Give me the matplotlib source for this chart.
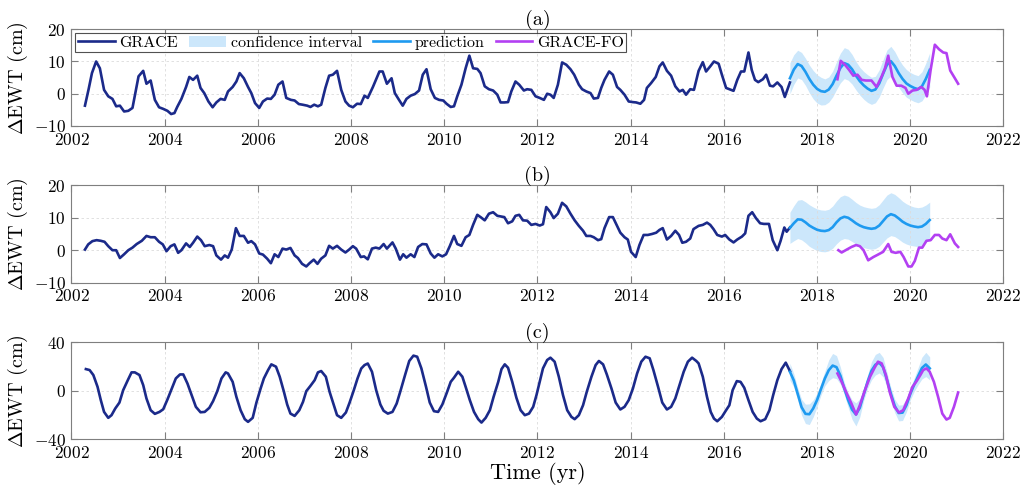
import numpy as np
import matplotlib
matplotlib.use("Agg")
import matplotlib.pyplot as plt
from matplotlib.patches import Patch
from matplotlib.lines import Line2D

plt.rcParams['font.family'] = 'serif'
plt.rcParams['font.serif'] = ['cmr10', 'DejaVu Serif']
plt.rcParams['mathtext.fontset'] = 'cm'
plt.rcParams['axes.formatter.use_mathtext'] = True
plt.rcParams['axes.unicode_minus'] = False

# ---- GRACE monthly series, panel (a)
t_grace_a = [2002.29, 2002.37, 2002.44, 2002.53, 2002.61, 2002.70, 2002.79, 2002.88, 2002.96, 2003.04,
             2003.13, 2003.22, 2003.31, 2003.44, 2003.54, 2003.61, 2003.70, 2003.79, 2003.88, 2003.97,
             2004.06, 2004.14, 2004.21, 2004.27, 2004.36, 2004.46, 2004.53, 2004.61, 2004.70, 2004.77,
             2004.85, 2004.94, 2005.03, 2005.11, 2005.20, 2005.29, 2005.36, 2005.46, 2005.54, 2005.61,
             2005.70, 2005.79, 2005.86, 2005.94, 2006.03, 2006.11, 2006.20, 2006.28, 2006.36, 2006.44,
             2006.53, 2006.61, 2006.71, 2006.79, 2006.88, 2006.96, 2007.06, 2007.13, 2007.21, 2007.29,
             2007.36, 2007.45, 2007.53, 2007.61, 2007.70, 2007.79, 2007.88, 2007.96, 2008.04, 2008.13,
             2008.21, 2008.29, 2008.36, 2008.47, 2008.61, 2008.68, 2008.77, 2008.87, 2008.94, 2009.03,
             2009.11, 2009.19, 2009.28, 2009.37, 2009.46, 2009.54, 2009.62, 2009.71, 2009.80, 2009.89,
             2009.98, 2010.05, 2010.14, 2010.21, 2010.28, 2010.37, 2010.46, 2010.54, 2010.62, 2010.71,
             2010.78, 2010.87, 2010.96, 2011.05, 2011.14, 2011.21, 2011.29, 2011.37, 2011.44, 2011.53,
             2011.61, 2011.71, 2011.78, 2011.87, 2011.96, 2012.05, 2012.14, 2012.21, 2012.28, 2012.35,
             2012.44, 2012.53, 2012.62, 2012.71, 2012.79, 2012.89, 2012.96, 2013.05, 2013.14, 2013.21,
             2013.30, 2013.37, 2013.44, 2013.54, 2013.62, 2013.71, 2013.78, 2013.87, 2013.96, 2014.05,
             2014.12, 2014.21, 2014.29, 2014.35, 2014.44, 2014.54, 2014.62, 2014.69, 2014.78, 2014.87,
             2014.96, 2015.05, 2015.12, 2015.19, 2015.28, 2015.36, 2015.46, 2015.55, 2015.62, 2015.71,
             2015.79, 2015.89, 2015.96, 2016.05, 2016.12, 2016.21, 2016.29, 2016.37, 2016.44, 2016.53,
             2016.60, 2016.67, 2016.74, 2016.84, 2016.91, 2016.99, 2017.06, 2017.15, 2017.24, 2017.31,
             2017.42]
ewt_grace_a = [-3.7, 1.5, 6.4, 10.0, 7.9, 1.2, -0.8, -1.6, -3.9, -3.7,
               -5.5, -5.3, -4.4, 5.4, 7.1, 3.1, 4.1, -1.9, -4.2, -4.7,
               -5.3, -6.3, -6.0, -4.1, -1.6, 2.1, 5.2, 4.3, 5.6, 1.8,
               0.2, -2.4, -4.2, -2.7, -1.6, -1.9, 0.7, 2.1, 3.8, 6.4,
               4.8, 2.1, 0.2, -2.9, -4.4, -2.4, -1.5, -1.6, -0.3, 2.8,
               3.8, -1.3, -1.9, -2.1, -3.2, -3.4, -3.7, -4.1, -3.4, -3.9,
               -3.4, 1.8, 5.6, 5.9, 7.1, 1.2, -2.4, -3.7, -4.2, -3.1,
               -3.2, -0.6, -1.3, 2.1, 6.9, 6.9, 3.1, 4.8, 0.2, -1.9,
               -3.7, -1.6, -0.6, -0.1, 1.0, 5.9, 7.6, 1.4, -1.3, -1.9,
               -2.1, -3.1, -4.1, -3.9, -0.8, 2.8, 7.9, 11.8, 7.9, 7.7,
               6.4, 2.3, 1.4, 1.0, -0.3, -2.7, -2.7, -2.6, 0.7, 3.8,
               2.8, 1.0, 1.4, 1.2, -0.8, -1.3, -1.9, 0.0, -0.3, -1.3,
               2.8, 9.7, 9.0, 7.6, 5.9, 2.8, 1.4, 0.7, 0.2, -1.5,
               -1.3, 1.8, 4.3, 6.9, 5.9, 2.1, 1.2, -0.3, -2.4, -2.6,
               -2.7, -3.1, -1.9, 1.8, 3.3, 5.2, 8.5, 9.7, 7.1, 5.6,
               2.3, 0.7, 1.2, -0.3, 1.4, 1.2, 7.1, 9.8, 6.9, 8.5,
               10.0, 9.3, 5.9, 1.8, 1.4, 0.9, 4.3, 6.9, 6.9, 12.8,
               7.4, 4.3, 3.6, 4.5, 5.9, 2.5, 2.3, 3.5, 2.1, -1.0,
               3.5]

# ---- GRACE monthly series, panel (b)
t_grace_b = [2002.29, 2002.36, 2002.45, 2002.54, 2002.63, 2002.71, 2002.79, 2002.88, 2002.96, 2003.04,
             2003.13, 2003.22, 2003.31, 2003.40, 2003.51, 2003.61, 2003.70, 2003.79, 2003.88, 2003.96,
             2004.04, 2004.13, 2004.21, 2004.29, 2004.36, 2004.46, 2004.54, 2004.61, 2004.70, 2004.78,
             2004.86, 2004.96, 2005.04, 2005.11, 2005.21, 2005.29, 2005.36, 2005.44, 2005.53, 2005.61,
             2005.70, 2005.79, 2005.86, 2005.94, 2006.03, 2006.11, 2006.20, 2006.28, 2006.36, 2006.44,
             2006.53, 2006.61, 2006.70, 2006.79, 2006.86, 2006.95, 2007.04, 2007.11, 2007.20, 2007.28,
             2007.36, 2007.45, 2007.53, 2007.61, 2007.70, 2007.79, 2007.88, 2007.96, 2008.04, 2008.11,
             2008.21, 2008.28, 2008.36, 2008.45, 2008.53, 2008.61, 2008.70, 2008.77, 2008.89, 2008.96,
             2009.05, 2009.12, 2009.19, 2009.28, 2009.36, 2009.44, 2009.53, 2009.62, 2009.71, 2009.79,
             2009.87, 2009.96, 2010.04, 2010.12, 2010.21, 2010.28, 2010.37, 2010.46, 2010.54, 2010.62,
             2010.71, 2010.79, 2010.87, 2010.96, 2011.05, 2011.14, 2011.21, 2011.29, 2011.37, 2011.46,
             2011.53, 2011.61, 2011.69, 2011.78, 2011.87, 2011.96, 2012.05, 2012.12, 2012.19, 2012.28,
             2012.35, 2012.44, 2012.53, 2012.62, 2012.71, 2012.80, 2012.89, 2012.98, 2013.05, 2013.14,
             2013.21, 2013.30, 2013.37, 2013.44, 2013.54, 2013.62, 2013.71, 2013.78, 2013.87, 2013.94,
             2014.01, 2014.11, 2014.19, 2014.28, 2014.37, 2014.46, 2014.55, 2014.62, 2014.69, 2014.78,
             2014.87, 2014.96, 2015.04, 2015.11, 2015.19, 2015.28, 2015.35, 2015.46, 2015.55, 2015.64,
             2015.71, 2015.78, 2015.86, 2015.96, 2016.03, 2016.12, 2016.21, 2016.29, 2016.39, 2016.46,
             2016.53, 2016.61, 2016.69, 2016.78, 2016.86, 2016.97, 2017.05, 2017.15, 2017.22, 2017.30,
             2017.35, 2017.42]
ewt_grace_b = [0.2, 1.8, 2.8, 3.1, 2.9, 2.6, 1.25, 0.0, 0.0, -2.4,
               -1.25, 0.0, 0.8, 1.9, 2.9, 4.4, 4.0, 4.0, 2.6, 1.8,
               -0.3, 1.25, 1.8, -0.8, 0.0, 2.1, 1.0, 2.3, 4.2, 3.1,
               1.25, 1.6, 1.25, -1.6, -2.9, -1.6, -2.3, 0.2, 6.8, 4.4,
               4.4, 2.3, 2.8, 1.8, -1.0, -1.35, -2.6, -4.0, -1.25, -2.1,
               0.5, 0.2, 0.7, -1.6, -2.4, -4.2, -5.0, -4.0, -2.9, -4.2,
               -2.6, -1.6, 1.35, 0.5, 1.35, 0.2, -0.7, 0.2, 1.25, 0.5,
               -2.1, -1.9, -2.8, 0.5, 0.8, 0.5, 1.9, 0.5, 2.4, 0.5,
               -2.9, -1.25, -2.3, -1.25, -2.1, 1.0, 1.9, 1.8, -1.0, -2.3,
               -1.25, -1.9, -1.25, 1.25, 4.4, 1.9, 1.35, 4.0, 4.7, 7.8,
               10.9, 10.1, 9.2, 11.25, 11.7, 10.6, 10.4, 10.2, 8.3, 8.9,
               10.6, 10.9, 9.2, 9.1, 7.8, 8.1, 7.6, 8.0, 13.3, 11.7,
               9.9, 11.25, 14.6, 13.5, 11.25, 9.2, 7.5, 6.0, 4.4, 4.4,
               4.0, 3.1, 3.4, 6.8, 10.2, 10.2, 7.5, 5.4, 4.0, 3.3,
               -0.5, -2.1, 1.6, 4.7, 4.7, 5.0, 5.4, 6.25, 6.8, 3.3,
               4.4, 6.0, 4.7, 2.3, 2.6, 3.6, 6.5, 7.5, 7.8, 8.5,
               7.8, 6.5, 4.7, 4.2, 4.7, 3.3, 2.4, 3.3, 4.2, 5.2,
               10.6, 11.7, 9.9, 8.3, 8.1, 8.1, 3.1, 0.0, 2.9, 7.0,
               5.7, 7.0]

# ---- GRACE monthly series, panel (c)
t_grace_c = [2002.31, 2002.39, 2002.47, 2002.56, 2002.63, 2002.70, 2002.79, 2002.86, 2002.94, 2003.03,
             2003.11, 2003.21, 2003.29, 2003.36, 2003.46, 2003.54, 2003.61, 2003.70, 2003.79, 2003.89,
             2003.97, 2004.06, 2004.15, 2004.24, 2004.33, 2004.40, 2004.49, 2004.58, 2004.67, 2004.77,
             2004.86, 2004.96, 2005.04, 2005.13, 2005.22, 2005.31, 2005.36, 2005.46, 2005.54, 2005.63,
             2005.72, 2005.79, 2005.89, 2005.97, 2006.06, 2006.13, 2006.22, 2006.29, 2006.39, 2006.47,
             2006.56, 2006.63, 2006.70, 2006.79, 2006.89, 2006.97, 2007.04, 2007.13, 2007.22, 2007.29,
             2007.36, 2007.46, 2007.54, 2007.63, 2007.70, 2007.79, 2007.89, 2007.97, 2008.06, 2008.14,
             2008.22, 2008.29, 2008.36, 2008.45, 2008.54, 2008.63, 2008.70, 2008.79, 2008.89, 2008.98,
             2009.06, 2009.16, 2009.25, 2009.34, 2009.42, 2009.51, 2009.61, 2009.69, 2009.78, 2009.87,
             2009.96, 2010.05, 2010.14, 2010.21, 2010.30, 2010.39, 2010.46, 2010.55, 2010.64, 2010.73,
             2010.80, 2010.89, 2010.98, 2011.06, 2011.16, 2011.23, 2011.30, 2011.37, 2011.46, 2011.55,
             2011.64, 2011.73, 2011.82, 2011.91, 2011.98, 2012.05, 2012.12, 2012.21, 2012.28, 2012.37,
             2012.46, 2012.55, 2012.64, 2012.73, 2012.80, 2012.89, 2012.98, 2013.06, 2013.16, 2013.25,
             2013.32, 2013.41, 2013.49, 2013.59, 2013.68, 2013.78, 2013.87, 2013.96, 2014.05, 2014.14,
             2014.23, 2014.32, 2014.41, 2014.49, 2014.59, 2014.68, 2014.78, 2014.87, 2014.96, 2015.05,
             2015.14, 2015.23, 2015.32, 2015.41, 2015.46, 2015.55, 2015.64, 2015.72, 2015.79, 2015.86,
             2015.96, 2016.05, 2016.12, 2016.19, 2016.28, 2016.36, 2016.44, 2016.53, 2016.62, 2016.71,
             2016.79, 2016.89, 2016.98, 2017.06, 2017.15, 2017.24, 2017.33, 2017.42]
ewt_grace_c = [17.9, 17.1, 13.0, 3.3, -7.7, -17.4, -22.3, -20.1, -14.6, -9.7,
               0.5, 8.8, 15.2, 15.2, 13.0, 4.7, -6.3, -16.0, -19.0, -17.4,
               -15.2, -7.2, 1.4, 10.2, 13.5, 13.5, 6.0, -3.6, -13.2, -17.7,
               -17.4, -14.0, -8.5, -0.3, 10.2, 15.2, 14.3, 7.4, -5.0, -16.0,
               -23.4, -25.6, -22.3, -9.7, 1.9, 10.2, 17.1, 21.8, 19.9, 11.6,
               -0.8, -11.3, -18.8, -20.7, -16.0, -9.1, -0.3, 4.1, 8.8, 15.2,
               16.3, 11.6, -0.8, -11.8, -20.1, -22.3, -17.9, -9.7, 0.5, 10.2,
               18.4, 21.2, 22.5, 15.7, 0.5, -11.3, -16.5, -18.8, -17.4, -10.5,
               -0.3, 13.0, 24.6, 29.0, 28.1, 18.5, 3.3, -9.7, -16.8, -17.4,
               -11.3, -2.2, 7.4, 10.8, 15.7, 11.6, 3.3, -7.7, -17.4, -23.4,
               -26.2, -22.3, -16.0, -5.0, 7.4, 17.9, 21.8, 19.0, 7.4, -5.8,
               -16.0, -20.1, -18.8, -13.2, -3.6, 7.4, 18.5, 25.4, 27.3, 24.0,
               11.6, -3.6, -16.0, -21.5, -23.4, -20.1, -11.9, -0.8, 11.6, 21.2,
               24.6, 21.8, 13.5, 1.9, -9.7, -15.4, -13.2, -7.7, 1.9, 14.3,
               24.0, 28.1, 26.8, 17.1, 3.3, -9.7, -15.4, -13.2, -6.3, 4.7,
               15.7, 24.0, 27.3, 24.6, 22.6, 11.6, -5.0, -17.4, -22.9, -25.1,
               -21.5, -16.0, -11.9, 0.5, 8.0, 7.4, 2.5, -7.7, -17.4, -22.9,
               -25.1, -23.4, -16.0, -3.6, 8.8, 17.9, 23.2, 16.3]

# ---- model prediction (monthly from mid 2017) and confidence half-width
t_pred = 2017.42 + np.arange(37) / 12.0
pred_a = [4.8, 7.5, 9.2, 8.6, 6.8, 4.6, 2.8, 1.5, 0.8, 0.6, 1.3, 3.0, 5.6, 8.0, 9.5, 9.0, 7.6, 5.6, 3.9,
          2.6, 1.6, 0.9, 1.3, 3.2, 6.2, 9.0, 10.1, 8.6, 6.4, 4.6, 3.2, 2.4, 1.8, 1.4, 2.3, 4.6, 7.4]
hw_a = [4.8, 4.6, 4.3, 4.2, 4.2, 4.3, 4.4, 4.4, 4.3, 4.0, 3.9, 4.0, 4.3, 4.6, 4.8, 4.8, 4.6, 4.4, 4.3,
        4.3, 4.3, 4.2, 4.1, 4.2, 4.4, 4.6, 4.6, 4.5, 4.4, 4.3, 4.3, 4.2, 4.2, 4.2, 4.5, 4.9, 5.3]
pred_b = [6.9, 8.3, 9.5, 9.4, 8.6, 7.6, 6.9, 6.3, 6.0, 5.9, 6.2, 7.1, 8.6, 9.8, 10.3, 10.0, 9.2, 8.3, 7.6,
          7.1, 6.8, 6.6, 6.8, 7.6, 9.0, 10.4, 11.1, 10.7, 9.8, 8.8, 8.1, 7.6, 7.3, 7.1, 7.3, 8.1, 9.3]
hw_b = [4.8, 5.4, 5.9, 6.2, 6.3, 6.4, 6.4, 6.4, 6.4, 6.4, 6.4, 6.5, 6.6, 6.7, 6.7, 6.6, 6.5, 6.4, 6.3,
        6.3, 6.3, 6.3, 6.3, 6.4, 6.5, 6.6, 6.6, 6.5, 6.4, 6.3, 6.2, 6.1, 6.0, 6.0, 6.0, 5.8, 5.5]
pred_c = [15.7, 8.5, -2.5, -13.5, -19.0, -19.3, -14.5, -7.5, 1.5, 10.2, 17.0, 20.8, 19.5, 12.5, 2.0,
          -7.7, -15.5, -19.5, -14.0, -3.0, 7.5, 16.5, 21.5, 23.2, 19.5, 9.0, -2.5, -12.5, -18.3, -18.0,
          -11.9, -2.5, 5.0, 12.0, 18.8, 21.7, 18.5]
hw_c = [7.0, 5.5, 5.0, 6.5, 8.0, 8.5, 7.0, 5.5, 5.0, 6.0, 8.5, 10.0, 9.5, 7.0, 5.0, 6.0, 8.0, 9.5, 7.5,
        5.0, 5.5, 7.5, 8.5, 8.5, 8.0, 6.0, 5.0, 5.5, 6.5, 6.5, 5.5, 5.0, 5.5, 7.0, 9.0, 10.0, 9.5]

# ---- GRACE-FO
t_fo_a = [2018.44, 2018.51, 2018.60, 2018.69, 2018.78, 2018.87, 2018.96, 2019.05, 2019.17, 2019.28,
          2019.39, 2019.46, 2019.53, 2019.62, 2019.71, 2019.81, 2019.90, 2019.96, 2020.05, 2020.14,
          2020.24, 2020.31, 2020.36, 2020.44, 2020.53, 2020.62, 2020.71, 2020.78, 2020.86, 2020.96,
          2021.03]
ewt_fo_a = [4.5, 10.2, 9.0, 7.4, 5.6, 5.9, 4.3, 4.1, 4.1, 2.1,
            5.4, 7.9, 11.8, 5.2, 2.5, 2.5, 1.8, 0.0, 1.0, 1.2,
            2.1, 1.2, -0.8, 7.4, 15.2, 13.8, 12.8, 12.6, 7.2, 4.8,
            3.1]
t_fo_b = [2018.46, 2018.53, 2018.64, 2018.74, 2018.84, 2018.92, 2019.00, 2019.10, 2019.21, 2019.31,
          2019.42, 2019.53, 2019.60, 2019.69, 2019.79, 2019.86, 2019.96, 2020.03, 2020.10, 2020.19,
          2020.26, 2020.35, 2020.44, 2020.53, 2020.62, 2020.69, 2020.78, 2020.86, 2020.96, 2021.03]
ewt_fo_b = [0.0, -0.7, 0.2, 1.0, 1.6, 1.25, 0.0, -3.1, -2.1, -1.35,
            -0.5, 1.9, -0.5, -0.8, -0.5, -2.1, -5.0, -5.0, -3.3, 0.8,
            0.8, 2.9, 3.1, 4.7, 4.7, 3.6, 3.1, 4.9, 2.1, 1.0]
t_fo_c = [2018.44, 2018.53, 2018.64, 2018.74, 2018.84, 2018.92, 2019.03, 2019.14, 2019.23, 2019.31,
          2019.39, 2019.48, 2019.56, 2019.66, 2019.76, 2019.85, 2019.96, 2020.05, 2020.14, 2020.22,
          2020.28, 2020.35, 2020.42, 2020.51, 2020.60, 2020.69, 2020.78, 2020.85, 2020.94, 2021.03]
ewt_fo_c = [14.3, 7.4, -2.2, -10.5, -19.6, -11.9, 0.5, 11.6, 18.5, 24.0,
            22.6, 13.0, -0.8, -13.2, -17.9, -16.0, -6.3, 3.3, 8.0, 13.0,
            17.1, 18.5, 15.7, 7.4, -5.0, -18.8, -23.7, -22.3, -13.2, -1.4]

panel_titles = ['(a)', '(b)', '(c)']
ylims = [(-10, 20), (-10, 20), (-40, 40)]
yticks = [[-10, 0, 10, 20], [-10, 0, 10, 20], [-40, 0, 40]]
xticks = list(range(2002, 2023, 2))

c_grace = '#1b2a8a'
c_pred = '#1e9af0'
c_band = '#cce7fb'
c_fo = '#b340f2'

panels = [
    (t_grace_a, ewt_grace_a, pred_a, hw_a, t_fo_a, ewt_fo_a),
    (t_grace_b, ewt_grace_b, pred_b, hw_b, t_fo_b, ewt_fo_b),
    (t_grace_c, ewt_grace_c, pred_c, hw_c, t_fo_c, ewt_fo_c),
]

fig = plt.figure(figsize=(10.28, 4.95), dpi=100)
boxes = [[0.0695, 0.7455, 0.9065, 0.1954],
         [0.0695, 0.4289, 0.9065, 0.1968],
         [0.0695, 0.1125, 0.9065, 0.1960]]

for i, (tg, eg, pr, hw, tf, ef) in enumerate(panels):
    ax = fig.add_axes(boxes[i])
    pr = np.array(pr)
    hw = np.array(hw)
    ax.fill_between(t_pred, pr - hw, pr + hw, color=c_band, lw=0)
    ax.plot(tg, eg, color=c_grace, lw=1.9)
    ax.plot(t_pred, pr, color=c_pred, lw=1.9)
    ax.plot(tf, ef, color=c_fo, lw=1.9)

    ax.set_xlim(2002, 2022)
    ax.set_ylim(*ylims[i])
    ax.set_xticks(xticks)
    ax.set_yticks(yticks[i])
    ax.grid(True, color='#dcdcdc', ls=(0, (3, 3)), lw=0.6)
    ax.tick_params(direction='in', top=True, right=True, length=5, width=0.8,
                   color='#7f7f7f', labelsize=12.5, pad=4)
    for sp in ax.spines.values():
        sp.set_color('#7f7f7f')
        sp.set_linewidth(0.8)
    ax.set_title(panel_titles[i], fontsize=14.5, pad=3)
    ax.set_ylabel(r'$\Delta$EWT (cm)', fontsize=14.5, labelpad=3)

    if i == 0:
        handles = [Line2D([], [], color=c_grace, lw=1.9),
                   Patch(facecolor=c_band, edgecolor='none'),
                   Line2D([], [], color=c_pred, lw=1.9),
                   Line2D([], [], color=c_fo, lw=1.9)]
        labels = ['GRACE', 'confidence interval', 'prediction', 'GRACE-FO']
        leg = ax.legend(handles, labels, loc='upper left', ncol=4, fontsize=11.5,
                        frameon=True, fancybox=False, edgecolor='#262626',
                        borderpad=0.15, handlelength=2.3, handletextpad=0.3,
                        columnspacing=0.7, borderaxespad=0.25)
        leg.get_frame().set_linewidth(0.8)
    if i == 2:
        ax.set_xlabel('Time (yr)', fontsize=16, labelpad=1)

fig.savefig('out.png', dpi=100)
